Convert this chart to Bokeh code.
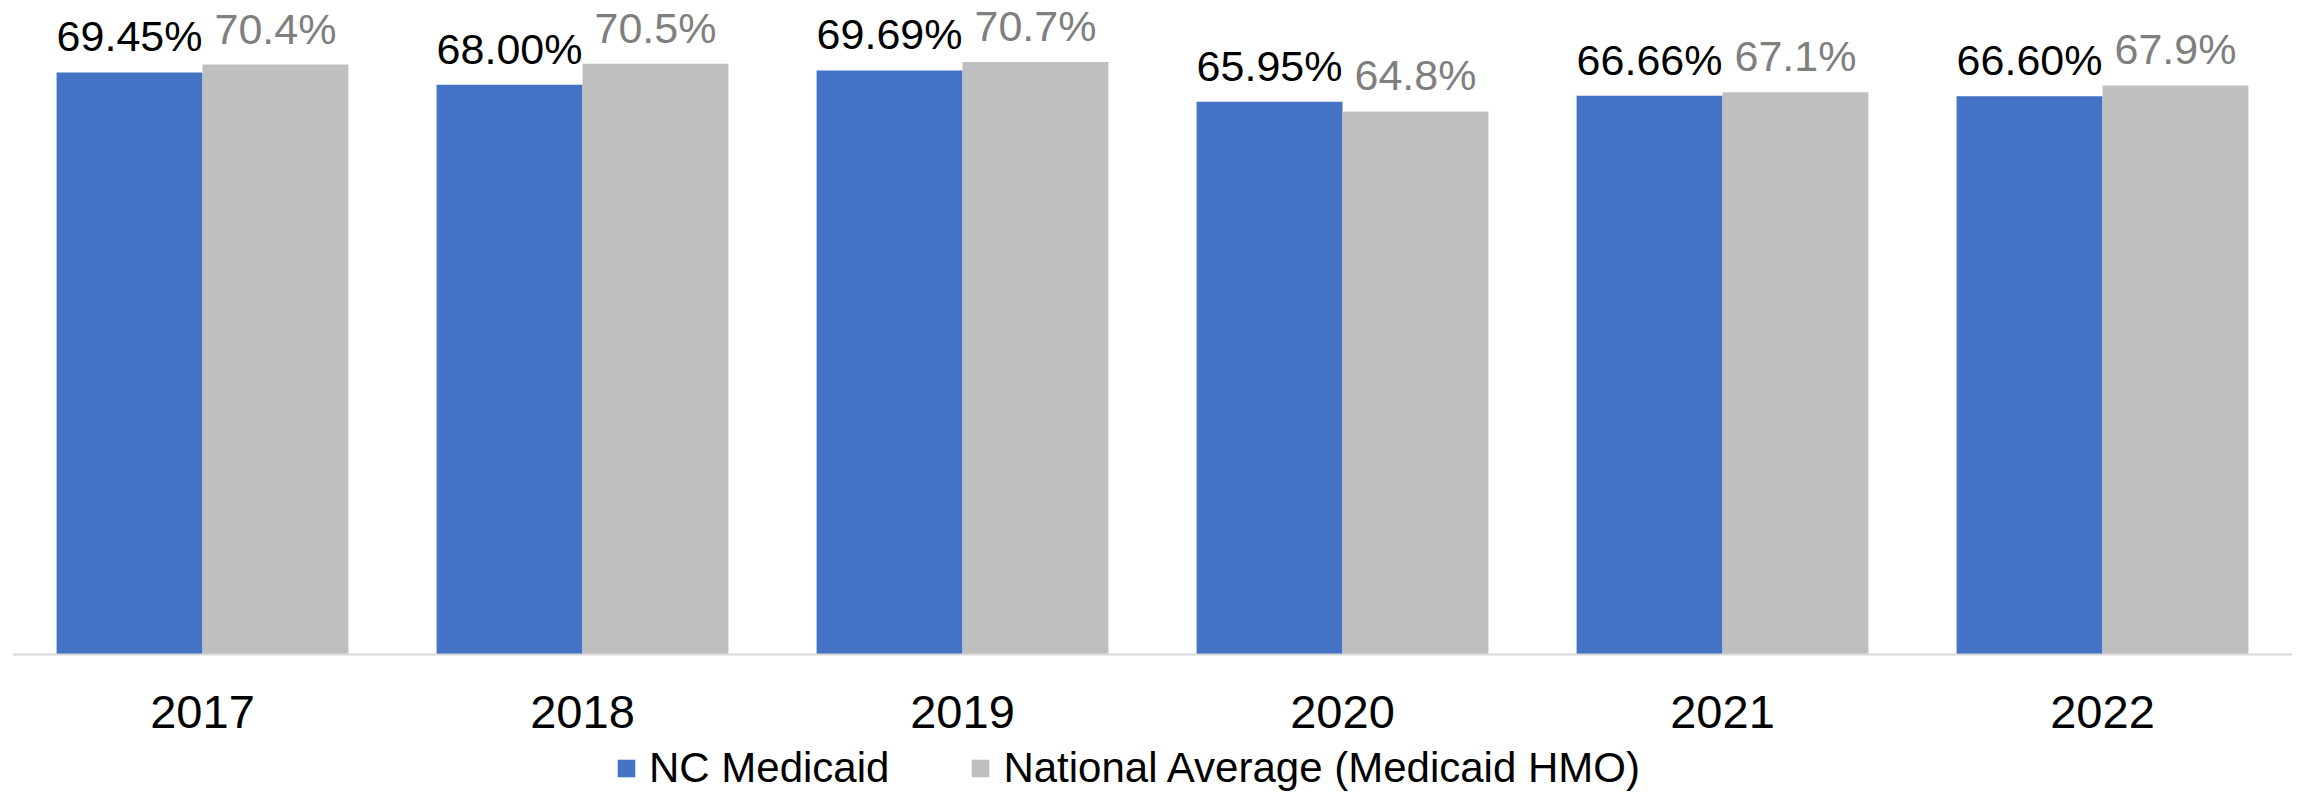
from bokeh.plotting import figure
from bokeh.models import FactorRange, Range1d, ColumnDataSource, Legend, LegendItem, Span
from bokeh.transform import dodge
from bokeh.core.properties import value
from bokeh.embed import file_html
from bokeh.resources import INLINE

years = ["2017", "2018", "2019", "2020", "2021", "2022"]
nc_medicaid = [69.45, 68.00, 69.69, 65.95, 66.66, 66.60]
national_avg = [70.4, 70.5, 70.7, 64.8, 67.1, 67.9]
nc_labels = ["69.45%", "68.00%", "69.69%", "65.95%", "66.66%", "66.60%"]
nat_labels = ["70.4%", "70.5%", "70.7%", "64.8%", "67.1%", "67.9%"]

BLUE = "#4472C4"
GRAY = "#BFBFBF"
FONT = "Liberation Sans"

src = ColumnDataSource(dict(years=years, nc=nc_medicaid, nat=national_avg,
                            nc_lab=nc_labels, nat_lab=nat_labels))

# frame covers the whole height; value 0 sits at 654 px from the top
p = figure(x_range=FactorRange(factors=years, range_padding=0),
           y_range=Range1d(-16.59, 78.04),
           width=2300, height=793, output_backend="svg", toolbar_location=None,
           x_axis_location=None, y_axis_location=None,
           min_border_left=12, min_border_right=8, min_border_top=0, min_border_bottom=0)

bw = 0.384
off = 0.192
r1 = p.vbar(x=dodge("years", -off, range=p.x_range), top="nc", width=bw, source=src,
            fill_color=BLUE, line_color=None)
r2 = p.vbar(x=dodge("years", off, range=p.x_range), top="nat", width=bw, source=src,
            fill_color=GRAY, line_color=None)

p.text(x=dodge("years", -off, range=p.x_range), y="nc", text="nc_lab", source=src,
       text_align="center", text_baseline="alphabetic", y_offset=-36,
       text_font=value(FONT), text_font_size="43px", text_color="#000000")
p.text(x=dodge("years", off, range=p.x_range), y="nat", text="nat_lab", source=src,
       text_align="center", text_baseline="alphabetic", y_offset=-36,
       text_font=value(FONT), text_font_size="43px", text_color="#7F7F7F")

# category axis: baseline line and year labels
p.add_layout(Span(location=0, dimension="width", line_color="#D9D9D9", line_width=2))
p.text(x="years", y=0, text="years", source=src, text_align="center",
       text_baseline="alphabetic", y_offset=58,
       text_font=value(FONT), text_font_size="47px", text_color="#000000")

p.xgrid.visible = False
p.ygrid.visible = False
p.outline_line_color = None

legend = Legend(items=[LegendItem(label="NC Medicaid", renderers=[r1]),
                       LegendItem(label="National Average (Medicaid HMO)", renderers=[r2])],
                orientation="horizontal", location=(603, 1),
                border_line_color=None, background_fill_alpha=0,
                spacing=80, glyph_width=22, glyph_height=22, label_standoff=12,
                label_text_font=FONT, label_text_font_size="42px",
                label_text_color="#000000", padding=0, margin=0)
p.add_layout(legend)

open("out.html", "w").write(file_html(p, INLINE))
